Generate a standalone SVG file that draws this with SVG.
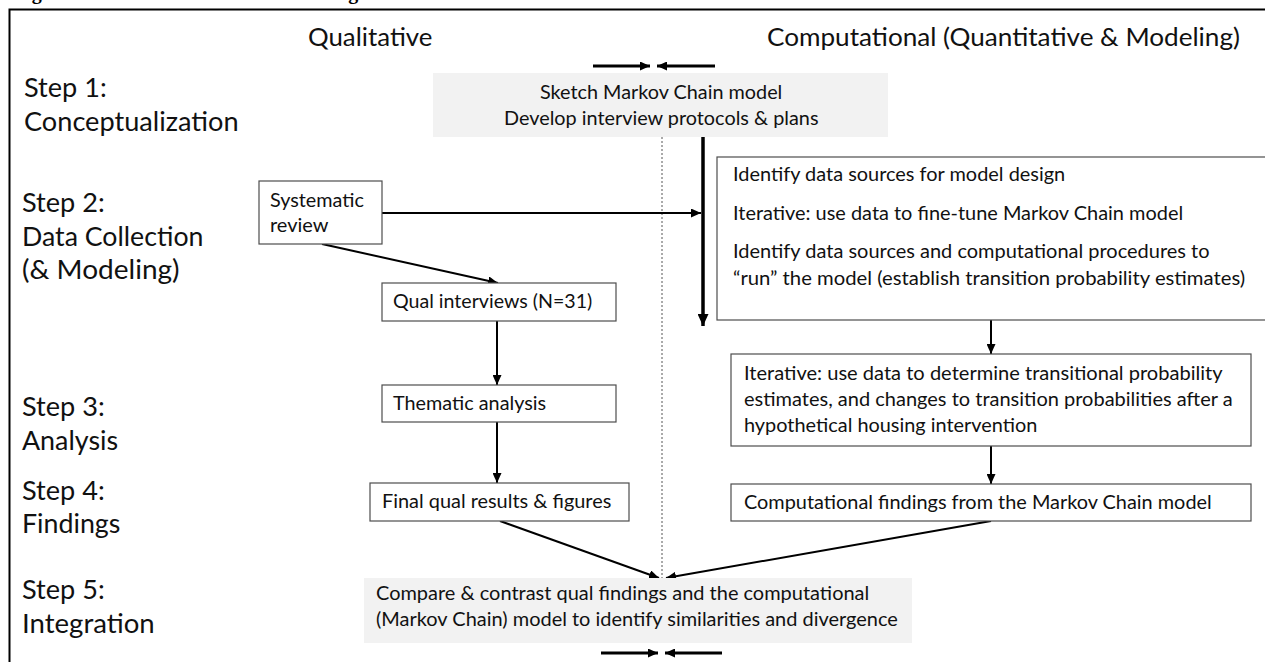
<svg xmlns="http://www.w3.org/2000/svg" width="1265" height="662" viewBox="0 0 1265 662">
<style>
.t{font-family:Lato,"Liberation Sans",sans-serif;fill:#111}
.b{font-size:19.5px}
.h{font-size:25.5px}
.s{font-size:26.5px}
.box{fill:#fff;stroke:#4d4d4d;stroke-width:1.2}
.gbox{fill:#f2f2f2;stroke:none}
.c{stroke:#000;stroke-width:2;fill:none}
.ct{stroke:#000;stroke-width:3;fill:none}
</style>
<defs>
<marker id="ah" markerUnits="userSpaceOnUse" markerWidth="10" markerHeight="9" refX="10" refY="4.5" orient="auto"><path d="M0,0 L10,4.5 L0,9 z" fill="#000"/></marker>
<marker id="ahb" markerUnits="userSpaceOnUse" markerWidth="12" markerHeight="11" refX="12" refY="5.5" orient="auto"><path d="M0,0 L12,5.5 L0,11 z" fill="#000"/></marker>
</defs>
<rect width="1265" height="662" fill="#fff"/>
<text x="14" y="-1" font-family="'Liberation Serif',serif" font-weight="bold" font-size="20" fill="#000">Figure 1. Mixed-Method Research Design</text>
<path d="M9.5,662 V9.5 H1265" fill="none" stroke="#000" stroke-width="2"/>

<g id="headings">
<text class="t h" x="308" y="46" textLength="124.4" lengthAdjust="spacingAndGlyphs">Qualitative</text>
<text class="t h" x="767" y="46" textLength="473" lengthAdjust="spacingAndGlyphs">Computational (Quantitative &amp; Modeling)</text>
</g>

<g id="steps">
<text class="t s" x="24" y="97" textLength="82.7" lengthAdjust="spacingAndGlyphs">Step 1:</text>
<text class="t s" x="24" y="131" textLength="214.6" lengthAdjust="spacingAndGlyphs">Conceptualization</text>
<text class="t s" x="22" y="212" textLength="82.7" lengthAdjust="spacingAndGlyphs">Step 2:</text>
<text class="t s" x="22" y="246" textLength="181.5" lengthAdjust="spacingAndGlyphs">Data Collection</text>
<text class="t s" x="22" y="279" textLength="157.6" lengthAdjust="spacingAndGlyphs">(&amp; Modeling)</text>
<text class="t s" x="22" y="416" textLength="82.7" lengthAdjust="spacingAndGlyphs">Step 3:</text>
<text class="t s" x="22" y="450" textLength="96.1" lengthAdjust="spacingAndGlyphs">Analysis</text>
<text class="t s" x="22" y="500" textLength="82.7" lengthAdjust="spacingAndGlyphs">Step 4:</text>
<text class="t s" x="22" y="533" textLength="98.4" lengthAdjust="spacingAndGlyphs">Findings</text>
<text class="t s" x="22" y="599" textLength="82.7" lengthAdjust="spacingAndGlyphs">Step 5:</text>
<text class="t s" x="22" y="633" textLength="132.7" lengthAdjust="spacingAndGlyphs">Integration</text>
</g>

<g id="connectors">
<line x1="662" y1="137" x2="662" y2="578" stroke="#555" stroke-width="1" stroke-dasharray="2,2"/>
<line class="ct" x1="593" y1="66" x2="650" y2="66" marker-end="url(#ah)"/>
<line class="ct" x1="715" y1="66" x2="657" y2="66" marker-end="url(#ah)"/>
<line class="ct" x1="601" y1="653" x2="658" y2="653" marker-end="url(#ah)"/>
<line class="ct" x1="722" y1="653" x2="665" y2="653" marker-end="url(#ah)"/>
<line x1="703" y1="137" x2="703" y2="326" stroke="#000" stroke-width="3.5" marker-end="url(#ahb)"/>
<line class="c" x1="382" y1="213" x2="701" y2="213" marker-end="url(#ah)"/>
<line class="c" x1="322" y1="244" x2="498" y2="283" marker-end="url(#ah)"/>
<line class="c" x1="497" y1="321" x2="497" y2="385" marker-end="url(#ah)"/>
<line class="c" x1="497" y1="422" x2="497" y2="483" marker-end="url(#ah)"/>
<line class="c" x1="991" y1="320" x2="991" y2="354" marker-end="url(#ah)"/>
<line class="c" x1="991" y1="446" x2="991" y2="484" marker-end="url(#ah)"/>
<line class="c" x1="500" y1="521" x2="659" y2="578" marker-end="url(#ah)"/>
<line class="c" x1="991" y1="521" x2="666" y2="578" marker-end="url(#ah)"/>
</g>

<g id="n-conceptualize">
<rect class="gbox" x="433" y="73" width="455" height="64"/>
<text class="t b" x="540" y="99" textLength="242.3" lengthAdjust="spacingAndGlyphs">Sketch Markov Chain model</text>
<text class="t b" x="504" y="125" textLength="314.5" lengthAdjust="spacingAndGlyphs">Develop interview protocols &amp; plans</text>
</g>

<g id="n-systematic">
<rect class="box" x="259" y="181" width="123" height="63"/>
<text class="t b" x="270" y="207" textLength="93.9" lengthAdjust="spacingAndGlyphs">Systematic</text>
<text class="t b" x="270" y="232" textLength="58.5" lengthAdjust="spacingAndGlyphs">review</text>
</g>

<g id="n-datasources">
<rect class="box" x="717" y="157" width="560" height="163"/>
<text class="t b" x="733" y="181" textLength="332.2" lengthAdjust="spacingAndGlyphs">Identify data sources for model design</text>
<text class="t b" x="733" y="220" textLength="450.1" lengthAdjust="spacingAndGlyphs">Iterative: use data to fine-tune Markov Chain model</text>
<text class="t b" x="733" y="258" textLength="476.5" lengthAdjust="spacingAndGlyphs">Identify data sources and computational procedures to</text>
<text class="t b" x="733" y="285" textLength="512.2" lengthAdjust="spacingAndGlyphs">“run” the model (establish transition probability estimates)</text>
</g>

<g id="n-qual">
<rect class="box" x="382" y="283" width="234" height="38"/>
<text class="t b" x="393" y="308" textLength="199.3" lengthAdjust="spacingAndGlyphs">Qual interviews (N=31)</text>
</g>

<g id="n-thematic">
<rect class="box" x="382" y="385" width="234" height="37"/>
<text class="t b" x="393" y="410" textLength="153.1" lengthAdjust="spacingAndGlyphs">Thematic analysis</text>
</g>

<g id="n-iterative">
<rect class="box" x="731" y="354" width="520" height="92"/>
<text class="t b" x="744" y="380" textLength="478.6" lengthAdjust="spacingAndGlyphs">Iterative: use data to determine transitional probability</text>
<text class="t b" x="744" y="406" textLength="488.7" lengthAdjust="spacingAndGlyphs">estimates, and changes to transition probabilities after a</text>
<text class="t b" x="744" y="432" textLength="293.4" lengthAdjust="spacingAndGlyphs">hypothetical housing intervention</text>
</g>

<g id="n-finalqual">
<rect class="box" x="370" y="483" width="259" height="38"/>
<text class="t b" x="382" y="508" textLength="229.3" lengthAdjust="spacingAndGlyphs">Final qual results &amp; figures</text>
</g>

<g id="n-compfindings">
<rect class="box" x="731" y="484" width="520" height="37"/>
<text class="t b" x="744" y="509" textLength="467.7" lengthAdjust="spacingAndGlyphs">Computational findings from the Markov Chain model</text>
</g>

<g id="n-integration">
<rect class="gbox" x="364" y="578" width="548" height="65"/>
<text class="t b" x="376" y="600" textLength="493.2" lengthAdjust="spacingAndGlyphs">Compare &amp; contrast qual findings and the computational</text>
<text class="t b" x="376" y="626" textLength="521.9" lengthAdjust="spacingAndGlyphs">(Markov Chain) model to identify similarities and divergence</text>
</g>
</svg>
